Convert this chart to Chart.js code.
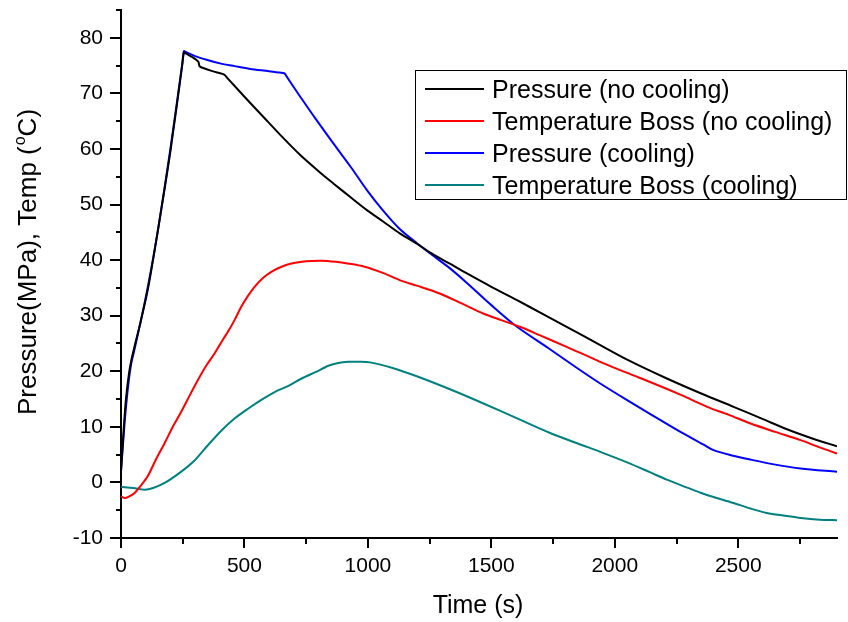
<!DOCTYPE html>
<html>
<head>
<meta charset="utf-8">
<script src="https://cdn.jsdelivr.net/npm/chart.js@4"></script>
<style>
  html, body { margin: 0; padding: 0; background: #fff; }
  #wrap { width: 848px; height: 622px; }
</style>
</head>
<body>
<div id="wrap"><canvas id="chart" width="848" height="622"></canvas></div>
<script>
// Data
const pressureNoCoolT = [0, 10, 20, 32, 42, 55, 80, 110, 150, 200, 248, 255, 262, 290, 313, 318, 330, 370, 410, 420, 430, 500, 576, 650, 726, 800, 860, 930, 996, 1060, 1129, 1200, 1258, 1330, 1401, 1500, 1604, 1700, 1805, 1941, 2050, 2211, 2350, 2481, 2600, 2684, 2800, 2900];
const pressureNoCoolV = [2, 9, 15, 19.5, 22, 24.5, 29, 35, 45.5, 59.5, 75.1, 77.4, 77.2, 76.5, 75.7, 74.9, 74.6, 74.0, 73.5, 73.3, 72.8, 69.4, 65.8, 62.3, 58.9, 56.0, 53.8, 51.3, 49.0, 47.0, 44.8, 42.9, 41.2, 39.4, 37.6, 35.2, 32.8, 30.5, 28.0, 24.7, 22.1, 18.7, 16.0, 13.6, 11.4, 9.8, 7.9, 6.5];

const tempNoCoolT = [0, 14, 30, 55, 80, 108, 140, 177, 210, 244, 280, 311, 345, 379, 410, 433, 460, 487, 515, 541, 575, 609, 650, 690, 750, 811, 870, 918, 987, 1060, 1129, 1198, 1291, 1380, 1467, 1540, 1616, 1700, 1805, 1941, 2050, 2158, 2270, 2374, 2460, 2550, 2650, 2753, 2830, 2900];
const tempNoCoolV = [-2.5, -2.8, -2.6, -1.9, -0.6, 1.1, 4, 7.1, 10, 12.7, 15.8, 18.4, 21, 23.2, 25.5, 27.1, 29.2, 31.6, 33.6, 35.2, 36.8, 37.9, 38.8, 39.4, 39.8, 39.9, 39.7, 39.4, 38.8, 37.7, 36.4, 35.4, 34.0, 32.2, 30.4, 29.2, 28.0, 26.4, 24.4, 21.7, 19.7, 17.8, 15.7, 13.6, 12.2, 10.6, 9.1, 7.6, 6.3, 5.2];

const pressureCoolT = [0, 10, 20, 32, 42, 55, 80, 110, 150, 200, 248, 255, 262, 300, 350, 401, 460, 523, 600, 655, 662, 670, 700, 726, 787, 860, 930, 996, 1060, 1129, 1200, 1258, 1330, 1401, 1500, 1604, 1733, 1850, 1941, 2050, 2144, 2250, 2360, 2400, 2470, 2550, 2650, 2753, 2900];
const pressureCoolV = [2, 8, 13.5, 18.5, 21.5, 24, 29, 35.5, 45.5, 60, 75.3, 77.6, 77.45, 76.7, 76.0, 75.4, 74.9, 74.4, 74.0, 73.65, 73.6, 73.1, 71.1, 69.4, 65.5, 61.0, 56.8, 52.6, 49.0, 45.6, 43.0, 41.0, 38.6, 35.9, 31.9, 28.0, 24.1, 20.5, 17.8, 14.8, 12.3, 9.5, 6.8, 5.8, 4.9, 4.1, 3.2, 2.5, 1.9];

const tempCoolT = [0, 50, 97, 130, 177, 240, 299, 350, 408, 460, 516, 570, 624, 680, 732, 790, 840, 880, 921, 960, 1009, 1100, 1198, 1330, 1468, 1600, 1738, 1850, 1941, 2050, 2144, 2211, 2350, 2481, 2550, 2616, 2690, 2753, 2830, 2900];
const tempCoolV = [-0.8, -1.0, -1.3, -1.0, -0.1, 1.8, 4.0, 6.6, 9.4, 11.5, 13.3, 14.9, 16.3, 17.4, 18.7, 19.9, 21.0, 21.5, 21.7, 21.7, 21.6, 20.6, 19.1, 16.8, 14.2, 11.6, 8.9, 7.0, 5.5, 3.6, 1.8, 0.5, -1.9, -3.7, -4.7, -5.5, -6.0, -6.4, -6.7, -6.8];

const seriesLabels = ["Pressure (no cooling)", "Temperature Boss (no cooling)", "Pressure (cooling)", "Temperature Boss (cooling)"];
const seriesColors = ["#000000", "#ff0000", "#0000ff", "#008080"];

const xTicks = [0, 500, 1000, 1500, 2000, 2500];
const yTicks = [-10, 0, 10, 20, 30, 40, 50, 60, 70, 80];
const xTitle = "Time (s)";
const yTitle = ["Pressure(MPa), Temp (", "o", "C)"];

const FONT = "'Liberation Sans', Arial, sans-serif";

function toPoints(ts, vs) {
  return ts.map((t, i) => ({ x: t, y: vs[i] }));
}

function makeDataset(i, ts, vs) {
  return {
    label: seriesLabels[i],
    data: toPoints(ts, vs),
    borderColor: seriesColors[i],
    borderWidth: 2,
    pointRadius: 0,
    tension: 0.3,
    fill: false,
  };
}

// Tick marks, titles and boxed legend
const decorations = {
  id: "decorations",
  afterDraw(chart) {
    const ctx = chart.ctx;
    const { x, y } = chart.scales;
    const area = chart.chartArea;
    ctx.save();
    ctx.strokeStyle = "#000";
    ctx.lineWidth = 2;

    // x ticks (major 500, minor 250)
    for (let v = x.min; v <= x.max; v += 250) {
      const px = Math.round(x.getPixelForValue(v));
      const len = v % 500 === 0 ? 10 : 6;
      ctx.beginPath();
      ctx.moveTo(px, area.bottom);
      ctx.lineTo(px, area.bottom + len);
      ctx.stroke();
    }
    // y ticks (major 10, minor 5)
    for (let v = -10; v <= y.max; v += 5) {
      const py = Math.round(y.getPixelForValue(v));
      const len = v % 10 === 0 ? 11 : 5;
      ctx.beginPath();
      ctx.moveTo(area.left, py);
      ctx.lineTo(area.left - len, py);
      ctx.stroke();
    }

    // axis titles
    ctx.fillStyle = "#000";
    ctx.font = "25px " + FONT;
    ctx.textAlign = "center";
    ctx.textBaseline = "alphabetic";
    ctx.fillText(xTitle, 478, 613);

    ctx.save();
    ctx.translate(36, 415);
    ctx.rotate(-Math.PI / 2);
    ctx.textAlign = "left";
    ctx.font = "26px " + FONT;
    let w = ctx.measureText(yTitle[0]).width;
    ctx.fillText(yTitle[0], 0, 0);
    ctx.font = "16px " + FONT;
    ctx.fillText(yTitle[1], w + 1, -11);
    w += ctx.measureText(yTitle[1]).width + 1;
    ctx.font = "26px " + FONT;
    ctx.fillText(yTitle[2], w, 0);
    ctx.restore();

    // legend
    ctx.lineWidth = 1;
    ctx.strokeRect(415.5, 70.5, 431, 129);
    const rows = [89, 121, 153, 185];
    ctx.font = "25px " + FONT;
    ctx.textAlign = "left";
    chart.data.datasets.forEach((ds, i) => {
      ctx.strokeStyle = ds.borderColor;
      ctx.lineWidth = 2;
      ctx.beginPath();
      ctx.moveTo(425, rows[i]);
      ctx.lineTo(484, rows[i]);
      ctx.stroke();
      ctx.fillStyle = "#000";
      ctx.fillText(ds.label, 492, rows[i] + 8.5);
    });
    ctx.restore();
  },
};

new Chart(document.getElementById("chart"), {
  type: "line",
  data: {
    datasets: [
      makeDataset(0, pressureNoCoolT, pressureNoCoolV),
      makeDataset(1, tempNoCoolT, tempNoCoolV),
      makeDataset(2, pressureCoolT, pressureCoolV),
      makeDataset(3, tempCoolT, tempCoolV),
    ],
  },
  options: {
    responsive: false,
    animation: false,
    layout: { padding: { top: 10, right: 11, left: 0, bottom: 0 } },
    plugins: { legend: { display: false }, tooltip: { enabled: false } },
    scales: {
      x: {
        type: "linear",
        min: 0,
        max: 2900,
        afterBuildTicks: (scale) => {
          scale.ticks = xTicks.map((v) => ({ value: v }));
        },
        afterFit: (scale) => {
          scale.height = 84;
          scale.paddingLeft = 0;
          scale.paddingRight = 0;
        },
        ticks: {
          color: "#000",
          font: { family: FONT, size: 21 },
          padding: 16,
          maxRotation: 0,
          callback: (v) => String(v),
        },
        grid: { drawOnChartArea: false, drawTicks: false },
        border: { color: "#000", width: 2 },
      },
      y: {
        type: "linear",
        min: -10,
        max: 85,
        afterBuildTicks: (scale) => {
          scale.ticks = yTicks.map((v) => ({ value: v }));
        },
        afterFit: (scale) => {
          scale.width = 121;
          scale.paddingTop = 0;
          scale.paddingBottom = 0;
        },
        ticks: {
          color: "#000",
          font: { family: FONT, size: 21 },
          padding: 18,
          callback: (v) => String(v),
        },
        grid: { drawOnChartArea: false, drawTicks: false },
        border: { color: "#000", width: 2 },
      },
    },
  },
  plugins: [decorations],
});
</script>
</body>
</html>
